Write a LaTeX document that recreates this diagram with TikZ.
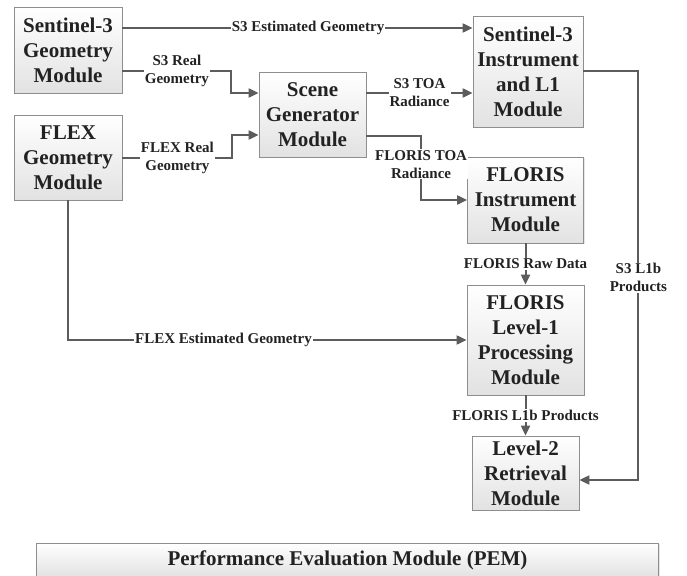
\documentclass[tikz,border=0pt]{standalone}
\usepackage{fontspec}
\setmainfont{Liberation Serif}
\usetikzlibrary{positioning,arrows.meta,shadows}

\definecolor{linegray}{HTML}{5C5C5C}
\definecolor{boxgray}{HTML}{8E8E8E}
\definecolor{boxfill}{HTML}{E2E2E2}
\definecolor{textcol}{HTML}{222222}

\begin{document}
\begin{tikzpicture}[%
    x=1pt, y=1pt,                           % one unit is one pixel of the layout
    >={Triangle[length=10pt,width=9pt]},    % Filled arrow heads
    every node/.style={text=textcol},
    ]
% -------------------------------------------------
% Box styles, label style and connector style
\tikzset{
  base/.style={draw=boxgray, line width=0.8pt, on grid, align=center, inner sep=2pt,
    top color=white, bottom color=boxfill,
    drop shadow={shadow xshift=1.2pt, shadow yshift=-1.2pt, opacity=0.2}},
  modbox/.style={base, minimum width=108pt, minimum height=86pt,
    font=\fontsize{21}{25}\selectfont\bfseries},
  % Connector line style
  link/.style={->, draw=linegray, line width=2pt},
  lbl/.style={fill=white, inner sep=1pt, align=center,
    font=\fontsize{15}{18}\selectfont\bfseries}
}
\useasboundingbox (0,0) rectangle (687,-575);
% -------------------------------------------------
% Start by placing the nodes
\node [modbox] (s3geo) at (68,-50) {Sentinel-3\\Geometry\\Module};
\node [modbox, minimum height=85pt, below=107.5pt of s3geo] (flexgeo) {FLEX\\Geometry\\Module};
\node [modbox, minimum width=107pt, minimum height=85pt,
       below right=64.5pt and 244.5pt of s3geo] (scene) {Scene\\Generator\\Module};
\node [modbox, minimum width=110pt, minimum height=111pt,
       above right=43pt and 215.5pt of scene] (s3inst) {Sentinel-3\\Instrument\\and L1\\Module};
\node [modbox, minimum width=116pt, below=128.5pt of s3inst, xshift=-2.5pt]
       (florisinst) {FLORIS\\Instrument\\Module};
\node [modbox, minimum width=117pt, minimum height=110pt, below=140pt of florisinst]
       (florisl1) {FLORIS\\Level-1\\Processing\\Module};
\node [modbox, minimum width=107pt, minimum height=74pt, below=133pt of florisl1]
       (level2) {Level-2\\Retrieval\\Module};
\node [modbox, minimum width=622pt, minimum height=34pt] (pem) at (347.5,-560)
       {Performance Evaluation Module (PEM)};

% -------------------------------------------------
% Connectors between the modules
\draw [link] ([yshift=22pt]s3geo.east) --
  node [lbl, pos=0.53] {S3 Estimated Geometry} ([yshift=22pt]s3geo.east -| s3inst.west);

\draw [link] ([yshift=-21pt]s3geo.east) --
  node [lbl] {S3 Real\\Geometry} ++(109pt,0) |- ([yshift=21.5pt]scene.west);

\draw [link] (flexgeo.east) --
  node [lbl] {FLEX Real\\Geometry} ++(110pt,0) |- ([yshift=-20.5pt]scene.west);

\draw [link] ([yshift=21.5pt]scene.east) --
  node [lbl] {S3 TOA\\Radiance} ([yshift=21.5pt]scene.east -| s3inst.west);

\draw [link] ([yshift=-21.5pt]scene.east) -|
  node [lbl, pos=0.72] {FLORIS TOA\\Radiance} ([xshift=-46pt]florisinst.west)
  -- (florisinst.west);

\draw [link] (florisinst) -- node [lbl] {FLORIS Raw Data} (florisl1);

\draw [link] (flexgeo.south) |-
  node [lbl, pos=0.695] {FLEX Estimated Geometry} (florisl1.west);

\draw [link] (florisl1) -- node [lbl] {FLORIS L1b Products} (level2);

\draw [link] (s3inst.east) -- ++(55pt,0) |-
  node [lbl, pos=0.2525] {S3 L1b\\Products} ([yshift=-7pt]level2.east);

% -------------------------------------------------
\end{tikzpicture}
\end{document}
